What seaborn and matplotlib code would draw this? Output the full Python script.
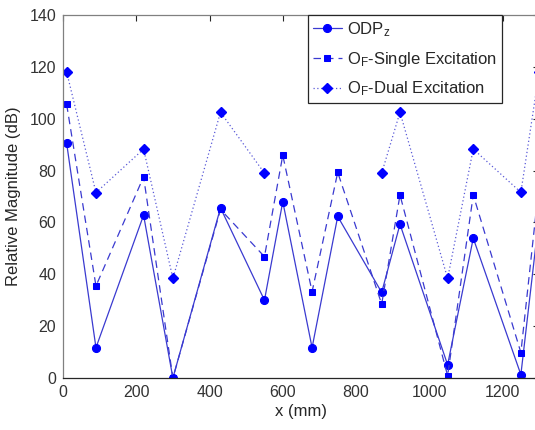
import numpy as np
import pandas as pd
import matplotlib
matplotlib.use("Agg")
import matplotlib.pyplot as plt
import seaborn as sns

# ---- data ----
x_mm = [10, 90, 220, 300, 430, 550, 600, 680, 750, 870, 920, 1050, 1120, 1250, 1300]
odp_z = [90.5, 11.7, 62.8, 0.0, 65.6, 30.0, 68.0, 11.7, 62.3, 33.0, 59.3, 5.1, 53.9, 1.3, 62.4]
of_single = [105.5, 35.5, 77.6, 0.0, 65.0, 46.8, 85.9, 33.3, 79.3, 28.5, 70.6, 0.9, 70.6, 9.8, 75.1]
of_dual = [118.0, 71.5, 88.3, 38.4, 102.5, 79.0, np.nan, np.nan, np.nan, 79.0, 102.5, 38.4, 88.3, 71.6, 118.0]

series_labels = [r'ODP$_\mathregular{z}$',
                 r'O$_\mathregular{F}$-Single Excitation',
                 r'O$_\mathregular{F}$-Dual Excitation']
x_ticks = [0, 200, 400, 600, 800, 1000, 1200]
y_ticks = [0, 20, 40, 60, 80, 100, 120, 140]

sns.set_theme(style="white")
plt.rcParams['font.family'] = ['Liberation Sans', 'DejaVu Sans']
plt.rcParams['mathtext.default'] = 'regular'

W, H = 535, 430
fig = plt.figure(figsize=(W / 100, H / 100), dpi=100)
fig.patch.set_facecolor('white')
ax_left = 63 / W
ax_bottom = (H - 378) / H
ax_width = (1300 * 0.3663) / W
ax_height = (378 - 15) / H
ax = fig.add_axes([ax_left, ax_bottom, ax_width, ax_height])
ax.set_facecolor('white')

df = pd.DataFrame({'x': x_mm, 'odp': odp_z, 'single': of_single, 'dual': of_dual})

line_col = '#3a3ad0'
mk_col = '#0000ff'

sns.lineplot(data=df, x='x', y='odp', ax=ax, color=line_col, lw=0.9,
             linestyle='-', marker='o', markersize=5.8, markerfacecolor=mk_col,
             markeredgecolor=mk_col, label=series_labels[0])
sns.lineplot(data=df, x='x', y='single', ax=ax, color=line_col, lw=0.9,
             linestyle=(0, (6, 4)), marker='s', markersize=4.2, markerfacecolor=mk_col,
             markeredgecolor=mk_col, label=series_labels[1])
# dual excitation has a gap (no values at 600-750 mm); keep the NaN gap
ax.plot(df['x'], df['dual'], color='#5a5ad8', lw=0.9, linestyle=(0, (1, 2)),
        marker='D', markersize=4.8, markerfacecolor=mk_col, markeredgecolor=mk_col,
        label=series_labels[2])

ax.set_xlim(0, 1300)
ax.set_ylim(0, 140)
ax.set_xticks(x_ticks)
ax.set_yticks(y_ticks)
ax.set_xticklabels([str(t) for t in x_ticks])
ax.set_yticklabels([str(t) for t in y_ticks])

tick_col = '#262626'
ax.tick_params(axis='both', which='both', direction='in', length=4, width=0.8,
               colors=tick_col, labelsize=11.5, top=True, right=True,
               labelcolor='#333333', pad=5)
for side in ['left', 'top', 'right']:
    ax.spines[side].set_color('#808080')
    ax.spines[side].set_linewidth(0.9)
ax.spines['bottom'].set_color('#262626')
ax.spines['bottom'].set_linewidth(0.9)

ax.set_xlabel('x (mm)', fontsize=12, color='#262626', labelpad=3)
ax.set_ylabel('Relative Magnitude (dB)', fontsize=12, color='#262626', labelpad=6)

leg = ax.legend(loc='upper right', bbox_to_anchor=(502 / W, (H - 15) / H),
                bbox_transform=fig.transFigure, borderaxespad=0, fontsize=12,
                frameon=True, fancybox=False, handlelength=1.75, handletextpad=0.3,
                labelspacing=0.65, borderpad=0.3)
frame = leg.get_frame()
frame.set_edgecolor('#262626')
frame.set_linewidth(0.9)
frame.set_facecolor('white')
frame.set_alpha(1)
for t in leg.get_texts():
    t.set_color('#262626')

fig.savefig('out.png', dpi=100)
